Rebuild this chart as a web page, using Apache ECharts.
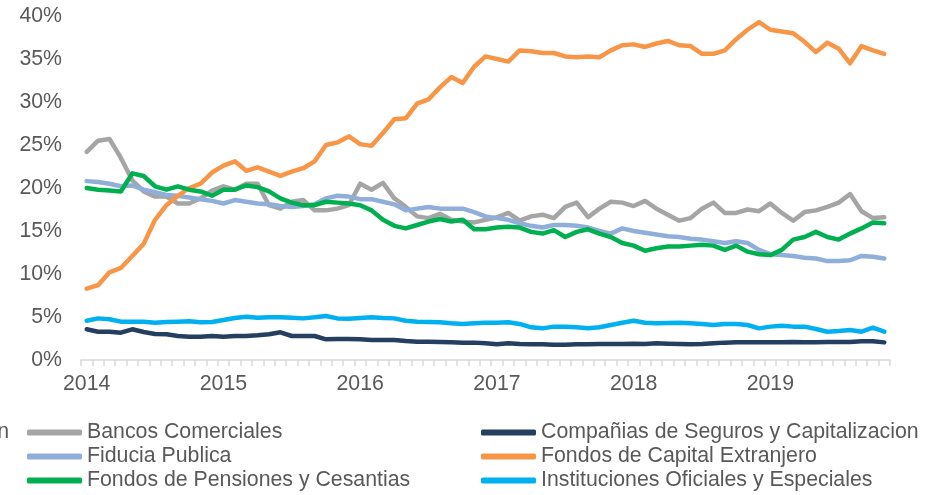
<!DOCTYPE html>
<html>
<head>
<meta charset="utf-8">
<script src="https://cdn.jsdelivr.net/npm/echarts@6/dist/echarts.min.js"></script>
<style>
  html, body { margin: 0; padding: 0; background: #fff; }
  #chart { width: 932px; height: 495px; }
</style>
</head>
<body>
<div id="chart"></div>
<script>
// months Jan 2014 .. Nov 2019
const months = [];
for (let y = 2014; y <= 2019; y++) {
  for (let m = 1; m <= 12; m++) {
    if (y === 2019 && m > 11) break;
    months.push(y + "-" + String(m).padStart(2, "0"));
  }
}

const bancos = [
  24.2, 25.5, 25.7, 23.5, 20.9, 19.6, 19.0, 19.0, 18.2, 18.2, 18.8, 19.7,
  20.2, 19.8, 20.5, 20.5, 18.0, 17.6, 18.4, 18.6, 17.4, 17.4, 17.6, 18.0,
  20.5, 19.8, 20.6, 18.8, 17.8, 16.7, 16.5, 17.0, 16.3, 16.1, 16.0, 16.3,
  16.6, 17.1, 16.2, 16.7, 16.9, 16.5, 17.8, 18.3, 16.6, 17.6, 18.4, 18.3,
  17.9, 18.5, 17.6, 16.9, 16.2, 16.5, 17.6, 18.3, 17.1, 17.1, 17.5, 17.3,
  18.2, 17.1, 16.2, 17.2, 17.4, 17.8, 18.3, 19.3, 17.3, 16.5, 16.6
];
const companias = [
  3.57, 3.29, 3.29, 3.18, 3.57, 3.26, 3.02, 2.99, 2.79, 2.71, 2.71, 2.79,
  2.71, 2.79, 2.79, 2.87, 2.99, 3.22, 2.79, 2.79, 2.79, 2.40, 2.44, 2.44,
  2.40, 2.33, 2.33, 2.33, 2.21, 2.13, 2.13, 2.09, 2.05, 2.02, 2.02, 1.94,
  1.82, 1.94, 1.86, 1.82, 1.82, 1.78, 1.78, 1.82, 1.82, 1.86, 1.86, 1.86,
  1.90, 1.86, 1.94, 1.90, 1.86, 1.82, 1.86, 1.94, 2.02, 2.05, 2.05, 2.05,
  2.05, 2.05, 2.09, 2.05, 2.05, 2.09, 2.09, 2.09, 2.17, 2.17, 2.05
];
const fiducia = [
  20.8, 20.7, 20.5, 20.2, 20.3, 19.8, 19.5, 19.2, 19.1, 18.9, 18.7, 18.5,
  18.2, 18.6, 18.4, 18.2, 18.1, 17.9, 17.8, 17.9, 18.1, 18.8, 19.1, 19.0,
  18.7, 18.7, 18.4, 18.1, 17.4, 17.6, 17.8, 17.6, 17.6, 17.6, 17.2, 16.7,
  16.5, 16.3, 15.9, 15.6, 15.4, 15.7, 15.7, 15.6, 15.4, 15.0, 14.7, 15.3,
  15.0, 14.8, 14.6, 14.4, 14.3, 14.1, 14.0, 13.8, 13.6, 13.8, 13.6, 12.8,
  12.3, 12.2, 12.1, 11.9, 11.8, 11.5, 11.5, 11.6, 12.1, 12.0, 11.8
];
const capitalExt = [
  8.3, 8.7, 10.2, 10.7, 12.1, 13.5, 16.3, 18.0, 19.1, 20.0, 20.5, 21.8,
  22.6, 23.1, 22.0, 22.4, 21.9, 21.4, 21.9, 22.3, 23.1, 25.0, 25.3, 26.0,
  25.1, 24.9, 26.4, 28.0, 28.1, 29.8, 30.3, 31.7, 32.9, 32.2, 34.1, 35.3,
  35.0, 34.7, 36.0, 35.9, 35.7, 35.7, 35.3, 35.2, 35.3, 35.2, 36.0, 36.6,
  36.7, 36.4, 36.8, 37.1, 36.6, 36.5, 35.6, 35.6, 36.0, 37.3, 38.4, 39.3,
  38.4, 38.2, 38.0, 37.0, 35.8, 36.9, 36.2, 34.5, 36.5, 36.0, 35.6
];
const pensiones = [
  20.0, 19.8, 19.7, 19.6, 21.7, 21.4, 20.2, 19.8, 20.2, 19.8, 19.6, 19.1,
  19.8, 19.8, 20.3, 20.1, 19.6, 18.8, 18.3, 18.0, 18.0, 18.4, 18.3, 18.2,
  18.0, 17.4, 16.3, 15.6, 15.3, 15.7, 16.1, 16.4, 16.1, 16.3, 15.2, 15.2,
  15.4, 15.5, 15.4, 14.9, 14.7, 15.1, 14.3, 14.9, 15.2, 14.7, 14.3, 13.6,
  13.3, 12.7, 13.0, 13.2, 13.2, 13.3, 13.4, 13.3, 12.8, 13.3, 12.6, 12.3,
  12.2, 12.8, 14.0, 14.3, 14.9, 14.3, 14.0, 14.7, 15.3, 16.0, 15.9
];
const instituciones = [
  4.57, 4.84, 4.73, 4.46, 4.46, 4.46, 4.34, 4.42, 4.46, 4.50, 4.38, 4.42,
  4.65, 4.88, 5.04, 4.92, 4.96, 4.96, 4.92, 4.84, 4.96, 5.12, 4.84, 4.81,
  4.88, 4.96, 4.88, 4.84, 4.57, 4.46, 4.42, 4.38, 4.26, 4.19, 4.26, 4.34,
  4.34, 4.38, 4.19, 3.80, 3.68, 3.88, 3.88, 3.80, 3.68, 3.80, 4.07, 4.34,
  4.57, 4.34, 4.26, 4.30, 4.34, 4.26, 4.19, 4.07, 4.19, 4.19, 4.07, 3.68,
  3.88, 3.99, 3.88, 3.88, 3.60, 3.29, 3.37, 3.49, 3.29, 3.76, 3.29
];

const names = [
  "Bancos Comerciales",
  "Compañias de Seguros y Capitalizacion",
  "Fiducia Publica",
  "Fondos de Capital Extranjero",
  "Fondos de Pensiones y Cesantias",
  "Instituciones Oficiales y Especiales"
];
const colors = ["#A5A5A5", "#243F60", "#8FAEDA", "#F79646", "#00B050", "#00B0F0"];
const values = [bancos, companias, fiducia, capitalExt, pensiones, instituciones];

const textColor = "#595959";
const font = "Liberation Sans, Arial, sans-serif";
const fontSize = 21.3;

const chart = echarts.init(document.getElementById("chart"));

const legendBase = {
  orient: "vertical",
  top: 422,
  itemWidth: 55,
  itemHeight: 6,
  itemGap: 3,
  icon: "roundRect",
  padding: 0,
  textStyle: { color: textColor, fontSize: fontSize, fontFamily: font }
};

chart.setOption({
  animation: false,
  color: colors,
  grid: { left: 81, right: 42, top: 16, bottom: 135 },
  legend: [
    Object.assign({}, legendBase, { left: 27, data: [names[0], names[2], names[4]] }),
    Object.assign({}, legendBase, { left: 481, data: [names[1], names[3], names[5]] })
  ],
  graphic: [{
    type: "text",
    right: 923,
    top: 422,
    style: { text: "Participación", fill: textColor, font: fontSize + "px " + font, textAlign: "right" }
  }],
  xAxis: {
    type: "category",
    data: months,
    boundaryGap: true,
    axisLine: { lineStyle: { color: "#D9D9D9", width: 1.5 } },
    axisTick: { show: true, interval: 0, length: 6, lineStyle: { color: "#D9D9D9", width: 1.5 } },
    axisLabel: {
      interval: 11,
      margin: 14,
      color: textColor,
      fontSize: fontSize,
      fontFamily: font,
      formatter: v => v.slice(0, 4)
    },
    splitLine: { show: false }
  },
  yAxis: {
    type: "value",
    min: 0,
    max: 40,
    interval: 5,
    axisLine: { show: false },
    axisTick: { show: false },
    splitLine: { show: false },
    axisLabel: { margin: 19, color: textColor, fontSize: fontSize, fontFamily: font, formatter: "{value}%" }
  },
  series: names.map((n, i) => ({
    name: n,
    type: "line",
    data: values[i],
    showSymbol: false,
    symbol: "none",
    lineStyle: { width: 4.5, color: colors[i], cap: "round", join: "round" },
    itemStyle: { color: colors[i] }
  }))
});
</script>
</body>
</html>
